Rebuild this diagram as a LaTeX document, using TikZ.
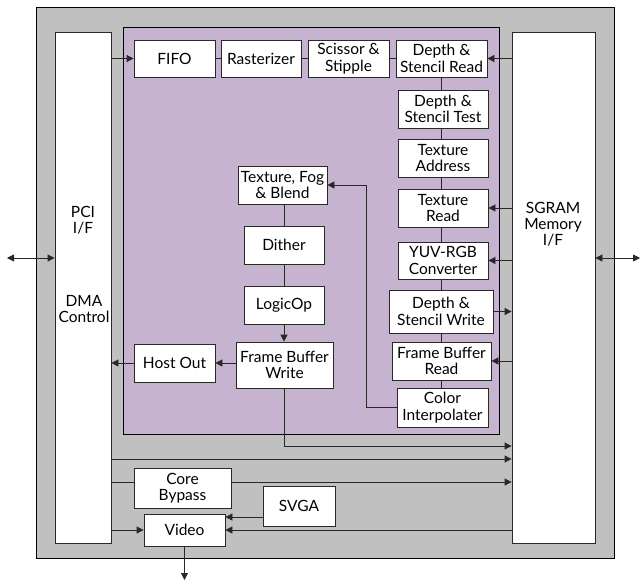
\documentclass[tikz,border=0pt]{standalone}
\usepackage{fontspec}
\setmainfont{Lato}
\usetikzlibrary{arrows.meta,calc}
\definecolor{outergray}{RGB}{192,192,192}
\definecolor{corepurple}{RGB}{197,179,207}
\definecolor{linegray}{RGB}{40,40,40}
\newcommand{\bx}[7][]{\node[box,#1,minimum width={(#4-#3)*1pt},minimum height={(#6-#5)*1pt}] (#2) at ({(#3+#4)/2},{(#5+#6)/2}) {#7};}
\begin{document}
\begin{tikzpicture}[x=1pt,y=-1pt,
  box/.style={draw=linegray,fill=white,line width=0.8pt,align=center,inner sep=0pt,font=\fontsize{15.5}{16.5}\selectfont},
  lbl/.style={align=center,inner sep=0pt,font=\fontsize{15.5}{16}\selectfont},
  conn/.style={draw=linegray,line width=0.8pt},
  arr/.style={conn,-{Triangle[length=7pt,width=7pt]}},
  darr/.style={conn,{Triangle[length=7pt,width=7pt]}-{Triangle[length=7pt,width=7pt]}}]
\useasboundingbox (0,0) rectangle (641,582);
% frames
\bx[fill=outergray,draw=black]{outer}{36}{614}{7}{558}{}
\bx{pci}{55}{111}{32}{543}{}
\bx{sgram}{512}{595}{32}{543}{}
\bx[fill=corepurple,draw=black]{core}{123}{499}{27}{434}{}
\node[lbl] (pcitxt) at (83,220) {PCI\\I/F};
\node[lbl] (dmatxt) at (84,309) {DMA\\Control};
\node[lbl] (sgramtxt) at (553,224) {SGRAM\\Memory\\I/F};
% pipeline blocks
\bx{fifo}{134}{215}{40}{77}{FIFO}
\bx{rast}{221}{301}{40}{77}{Rasterizer}
\bx{sciss}{308}{389}{40}{77}{Scissor \&\\Stipple}
\bx{dsr}{396}{487}{40}{77}{Depth \&\\Stencil Read}
\bx{dst}{398}{488}{90}{128}{Depth \&\\Stencil Test}
\bx{texa}{398}{488}{139}{177}{Texture\\Address}
\bx{texr}{398}{488}{189}{227}{Texture\\Read}
\bx{yuv}{398}{488}{242}{279}{YUV-RGB\\Converter}
\bx{dsw}{389}{493}{290}{333}{Depth \&\\Stencil Write}
\bx{fbr}{392}{491}{342}{380}{Frame Buffer\\Read}
\bx{color}{397}{488}{388}{427}{Color\\Interpolater}
\bx{tfb}{238}{327}{166}{204}{Texture, Fog\\\& Blend}
\bx{dither}{244}{324}{226}{264}{Dither}
\bx{logic}{244}{324}{286}{324}{LogicOp}
\bx{fbw}{236}{333}{342}{388}{Frame Buffer\\Write}
\bx{host}{134}{215}{344}{382}{Host Out}
\bx{bypass}{134}{231}{468}{508}{Core\\Bypass}
\bx{svga}{263}{335}{486}{526}{SVGA}
\bx{video}{144}{225}{514}{546}{Video}
% helper coordinates
\coordinate (y446) at (0,446);
\coordinate (y459) at (0,459);
\coordinate (y482) at (0,482);
\coordinate (y517) at (0,517);
\coordinate (vend) at (0,580);
\coordinate (lext) at (7,258);
\coordinate (rext) at (640,258);
% connectors
\draw[arr] (fifo.west -| pci.east) -- (fifo.west);
\draw[conn] (fifo.east) -- (rast.west);
\draw[conn] (rast.east) -- (sciss.west);
\draw[conn] (sciss.east) -- (dsr.west);
\draw[arr] (dsr.east -| sgram.west) -- (dsr.east);
\draw[conn] (dsr.south) -- (dsr.south |- dst.north);
\draw[conn] (dst.south -| dsr.south) -- (texa.north -| dsr.south);
\draw[conn] (texa.south -| dsr.south) -- (texr.north -| dsr.south);
\draw[conn] (texr.south -| dsr.south) -- (yuv.north -| dsr.south);
\draw[conn] (yuv.south -| dsr.south) -- (dsw.north -| dsr.south);
\draw[conn] (dsw.south -| dsr.south) -- (fbr.north -| dsr.south);
\draw[conn] (fbr.south -| dsr.south) -- (color.north -| dsr.south);
\draw[arr] (texr.east -| sgram.west) -- (texr.east);
\draw[arr] (yuv.east -| sgram.west) -- (yuv.east);
\draw[arr] (dsw.east) -- (dsw.east -| sgram.west);
\draw[arr] (fbr.east -| sgram.west) -- (fbr.east);
\draw[arr] (color.west) -- ([xshift=-30pt]color.west) |- (tfb.east);
\draw[conn] (tfb.south -| dither.north) -- (dither.north);
\draw[conn] (dither.south) -- (logic.north);
\draw[arr] (logic.south) -- (logic.south |- fbw.north);
\draw[arr] (fbw.west |- host.east) -- (host.east);
\draw[arr] (host.west) -- (host.west -| pci.east);
\draw[arr] (fbw.south) |- (sgram.west |- y446);
\draw[arr] (pci.east |- y459) -- (sgram.west |- y459);
\draw[conn] (pci.east |- y482) -- (bypass.west |- y482);
\draw[arr] (bypass.east |- y482) -- (sgram.west |- y482);
\draw[arr] (svga.west |- y517) -- (video.east |- y517);
\draw[arr] (pci.east |- video.west) -- (video.west);
\draw[arr] (video.east -| sgram.west) -- (video.east);
\draw[arr] (video.south) -- (video.south |- vend);
\draw[darr] (lext) -- (pci.west |- lext);
\draw[darr] (sgram.east |- rext) -- (rext);
\end{tikzpicture}
\end{document}
